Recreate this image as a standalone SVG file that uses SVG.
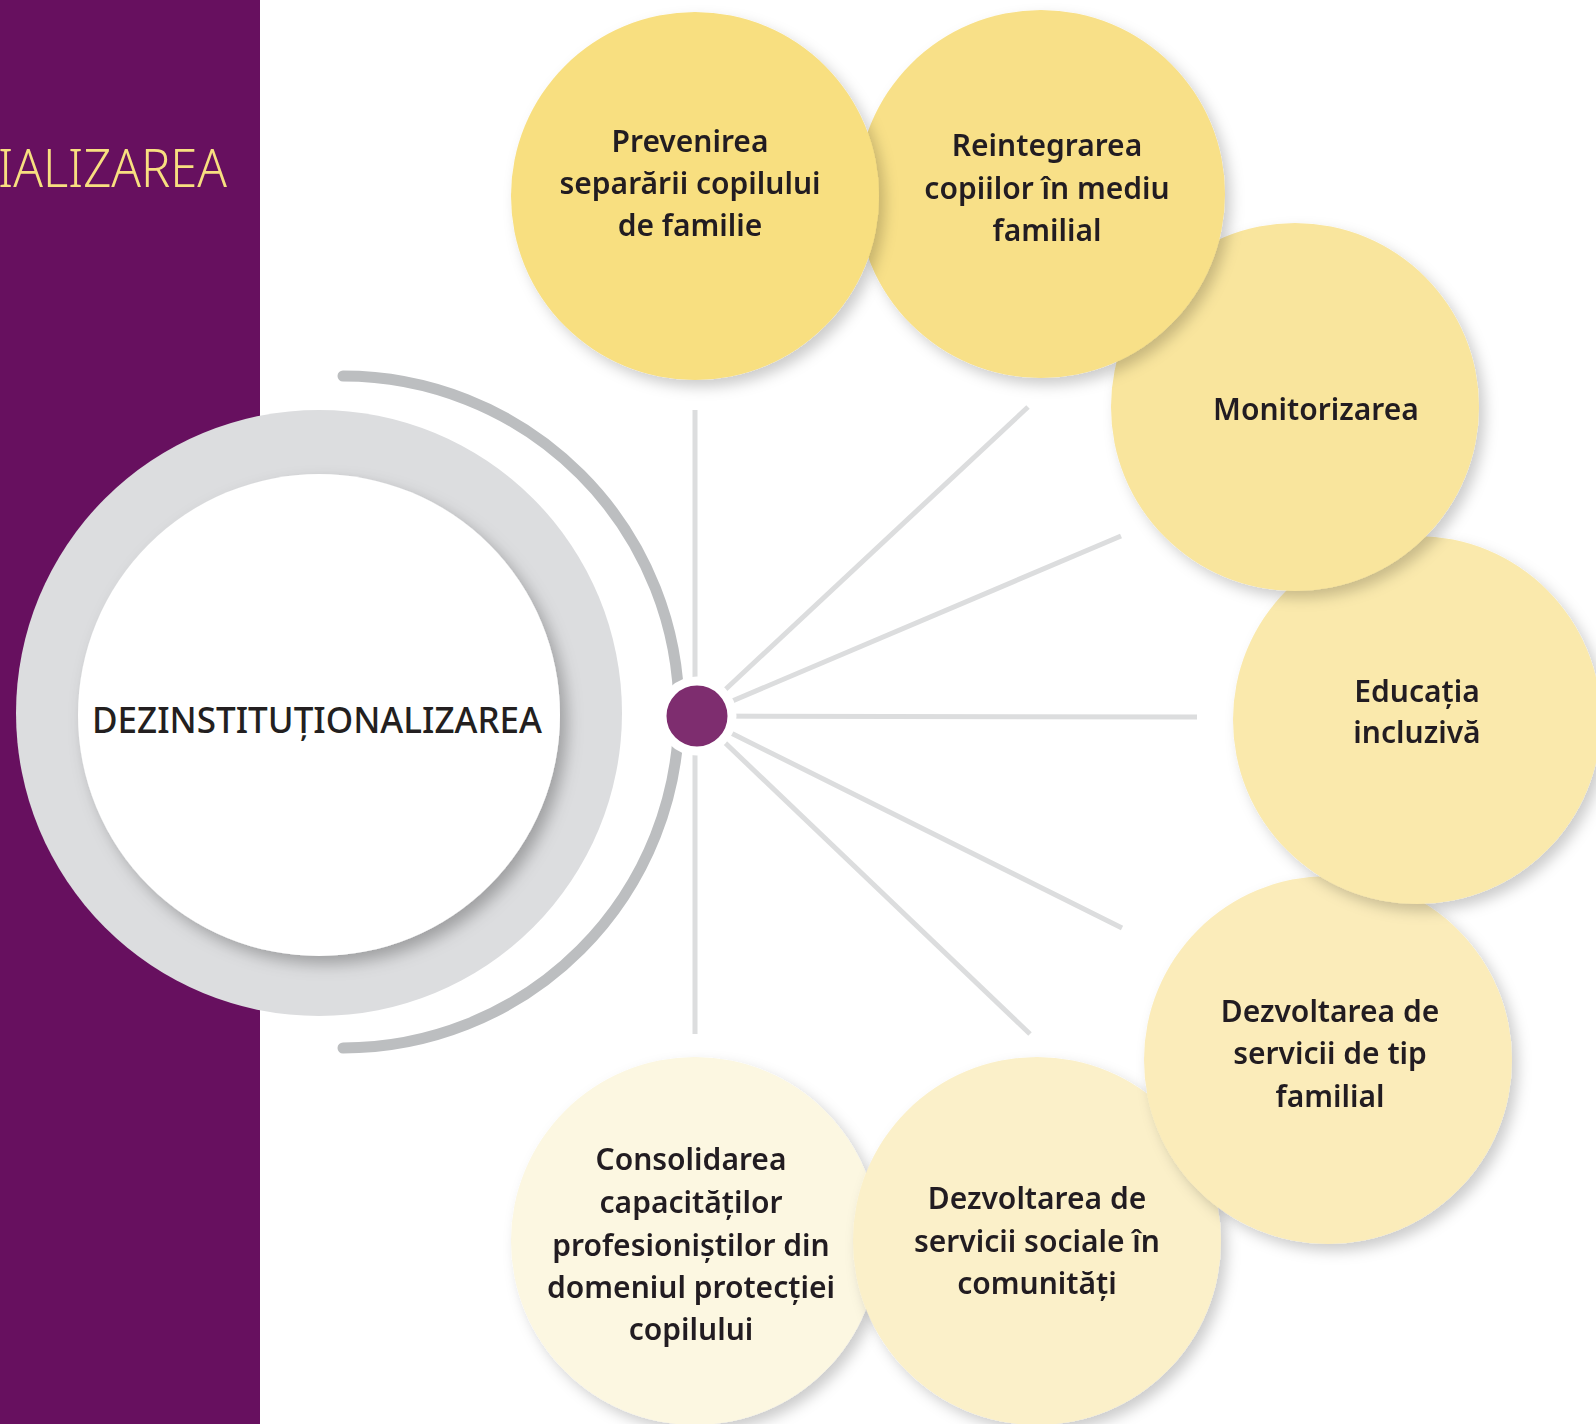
<svg xmlns="http://www.w3.org/2000/svg" width="1596" height="1424" viewBox="0 0 1596 1424">
<defs>
<style>
.lbl{font-family:"Noto Sans","Liberation Sans",sans-serif;font-weight:600;font-size:30px;fill:#231F20;text-anchor:middle}
.ray{stroke:#DCDDDE;stroke-width:5;fill:none}
.node{filter:url(#sh)}
</style>
<filter id="sh" x="-20%" y="-20%" width="150%" height="150%">
<feDropShadow dx="6" dy="7" stdDeviation="7" flood-color="#000" flood-opacity="0.2"/>
</filter>
<filter id="sh2" x="-20%" y="-20%" width="150%" height="150%">
<feDropShadow dx="7" dy="8" stdDeviation="8" flood-color="#000" flood-opacity="0.28"/>
</filter>
</defs>
<rect width="1596" height="1424" fill="#FFFFFF"/>
<rect x="0" y="0" width="260" height="1424" fill="#67105F"/>
<text x="-2" y="187" font-family="Noto Sans, Liberation Sans, sans-serif" font-weight="300" font-size="53" fill="#F8DF80" textLength="229" lengthAdjust="spacingAndGlyphs">IALIZAREA</text>

<g id="center">
<circle cx="319" cy="713" r="303" fill="#DCDDDF"/>
<circle cx="319" cy="715" r="241" fill="#FFFFFF" filter="url(#sh2)"/>
<text x="317" y="733" font-family="Noto Sans, Liberation Sans, sans-serif" font-weight="500" font-size="36" fill="#231F20" text-anchor="middle" textLength="450" lengthAdjust="spacingAndGlyphs">DEZINSTITUȚIONALIZAREA</text>
</g>

<g id="connectors">
<path d="M 343 376 A 336 336 0 0 1 343 1048" fill="none" stroke="#BCBEC0" stroke-width="11" stroke-linecap="round"/>
<line class="ray" x1="695" y1="410" x2="695" y2="1034"/>
<line class="ray" x1="697" y1="716" x2="1028" y2="407"/>
<line class="ray" x1="697" y1="716" x2="1121" y2="536"/>
<line class="ray" x1="697" y1="716" x2="1197" y2="717"/>
<line class="ray" x1="697" y1="716" x2="1122" y2="928"/>
<line class="ray" x1="697" y1="716" x2="1030" y2="1034"/>
</g>

<g id="hub">
<circle cx="697" cy="716" r="35" fill="#7E2D6F" stroke="#FFFFFF" stroke-width="9"/>
</g>

<g id="n7" class="node">
<circle cx="695" cy="1241" r="184" fill="#FCF7E1"/>
<text class="lbl" x="691" y="1170">Consolidarea</text>
<text class="lbl" x="691" y="1213">capacităților</text>
<text class="lbl" x="691" y="1256">profesioniștilor din</text>
<text class="lbl" x="691" y="1298">domeniul protecției</text>
<text class="lbl" x="691" y="1340">copilului</text>
</g>
<g id="n6" class="node">
<circle cx="1037" cy="1241" r="184" fill="#FBF0C9"/>
<text class="lbl" x="1037" y="1209">Dezvoltarea de</text>
<text class="lbl" x="1037" y="1252">servicii sociale în</text>
<text class="lbl" x="1037" y="1294">comunități</text>
</g>
<g id="n5" class="node">
<circle cx="1328" cy="1060" r="184" fill="#FBECBA"/>
<text class="lbl" x="1330" y="1022">Dezvoltarea de</text>
<text class="lbl" x="1330" y="1064">servicii de tip</text>
<text class="lbl" x="1330" y="1107">familial</text>
</g>
<g id="n4" class="node">
<circle cx="1417" cy="720" r="184" fill="#FAE9AC"/>
<text class="lbl" x="1417" y="702">Educația</text>
<text class="lbl" x="1417" y="743">incluzivă</text>
</g>
<g id="n3" class="node">
<circle cx="1295" cy="407" r="184" fill="#F9E59D"/>
<text class="lbl" x="1316" y="420">Monitorizarea</text>
</g>
<g id="n2" class="node">
<circle cx="1041" cy="194" r="184" fill="#F8E088"/>
<text class="lbl" x="1047" y="156">Reintegrarea</text>
<text class="lbl" x="1047" y="199">copiilor în mediu</text>
<text class="lbl" x="1047" y="241">familial</text>
</g>
<g id="n1" class="node">
<circle cx="695" cy="196" r="184" fill="#F8DF80"/>
<text class="lbl" x="690" y="152">Prevenirea</text>
<text class="lbl" x="690" y="194">separării copilului</text>
<text class="lbl" x="690" y="236">de familie</text>
</g>
</svg>
